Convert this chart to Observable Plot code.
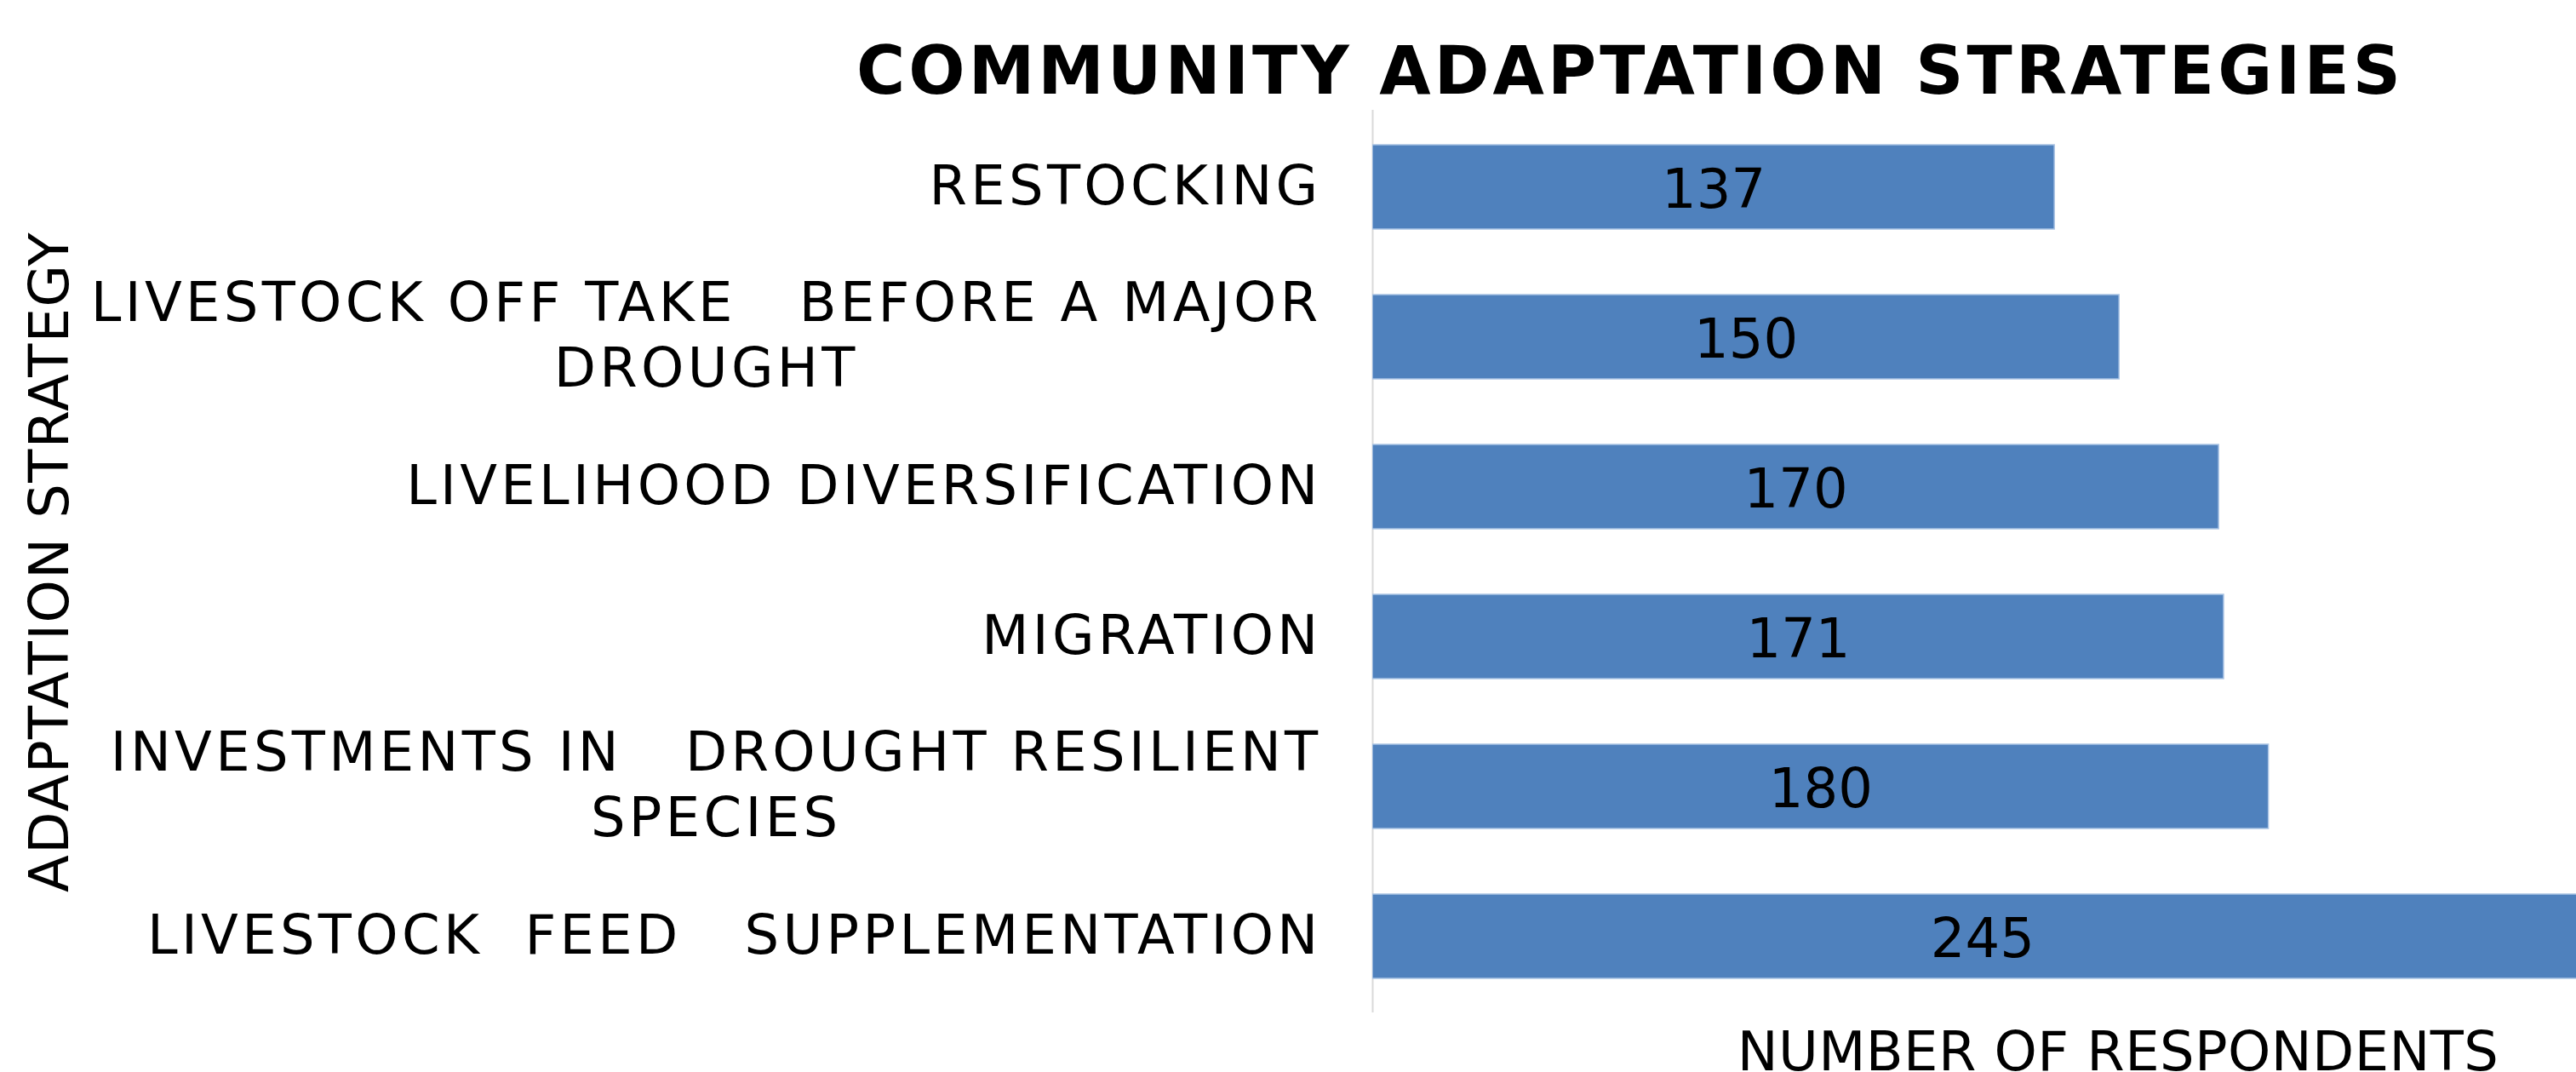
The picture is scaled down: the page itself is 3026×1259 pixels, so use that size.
<!DOCTYPE html>
<html>
<head>
<meta charset="utf-8">
<script src="https://cdn.jsdelivr.net/npm/d3@7"></script>
<script src="https://cdn.jsdelivr.net/npm/@observablehq/plot@0.6"></script>
<style>
  html, body { margin: 0; padding: 0; background: #fff; }
  #wrap { position: relative; width: 3026px; height: 1259px; overflow: hidden; font-family: "DejaVu Sans", Verdana, sans-serif; color: #000; }
  #wrap svg text { white-space: pre; }
  .title { position: absolute; left: 1915px; top: 44px; transform: translateX(-50%); font-size: 78px; line-height: 78px; font-weight: bold; letter-spacing: 4.1px; white-space: nowrap; }
  .xtitle { position: absolute; left: 2488px; top: 1203px; transform: translateX(-50%); font-size: 64px; line-height: 64px; letter-spacing: 0.4px; white-space: nowrap; }
  .ytitle { position: absolute; left: 58px; top: 660px; transform: translate(-50%, -50%) rotate(-90deg); font-size: 64px; line-height: 64px; letter-spacing: 1.4px; white-space: nowrap; }
  #chart { position: absolute; left: 0; top: 0; }
</style>
</head>
<body>
<div id="wrap">
  <div id="chart"></div>
  <div class="title">COMMUNITY ADAPTATION STRATEGIES</div>
  <div class="ytitle">ADAPTATION STRATEGY</div>
  <div class="xtitle">NUMBER OF RESPONDENTS</div>
</div>
<script>
// Categories, top to bottom
const categories = [
  "RESTOCKING",
  "LIVESTOCK OFF TAKE   BEFORE A MAJOR\nDROUGHT",
  "LIVELIHOOD DIVERSIFICATION",
  "MIGRATION",
  "INVESTMENTS IN   DROUGHT RESILIENT\nSPECIES",
  "LIVESTOCK  FEED   SUPPLEMENTATION"
];
// Number of respondents
const values = [137, 150, 170, 171, 180, 245];

const data = categories.map((c, i) => ({category: c, value: values[i]}));

const svg = Plot.plot({
  width: 3026,
  height: 1259,
  marginTop: 129,
  marginBottom: 70,
  marginLeft: 1612,
  marginRight: 0,
  x: {domain: [0, 241.8], axis: null},
  y: {domain: categories, axis: null, paddingInner: 0.44, paddingOuter: 0.22},
  style: {fontFamily: "'DejaVu Sans', Verdana, sans-serif", background: "transparent", color: "#000"},
  marks: [
    Plot.ruleX([0], {stroke: "#d9d9d9", strokeWidth: 2}),
    Plot.barX(data, {x: "value", y: "category", fill: "#4f81bd", stroke: "#a9c3e4", strokeWidth: 1.5, clip: true}),
    Plot.text(data, {x: d => d.value / 2, y: "category", text: d => String(d.value), fontSize: 64, fill: "#000", dy: 4}),
    Plot.text(data, {y: "category", text: "category", frameAnchor: "left", textAnchor: "end", dx: -60, dy: -5, fontSize: 64, lineHeight: 1.2, fill: "#000"})
  ]
});

document.getElementById("chart").appendChild(svg);

// Center wrapped category label lines relative to each other (as in the original)
const groups = svg.querySelectorAll('g[aria-label="text"]');
const catGroup = groups[groups.length - 1];
catGroup.style.letterSpacing = "4.3px";
catGroup.querySelectorAll("text").forEach(t => {
  const spans = t.querySelectorAll("tspan");
  if (spans.length > 1) {
    let w = 0;
    spans.forEach(s => { w = Math.max(w, s.getComputedTextLength()); });
    t.setAttribute("text-anchor", "middle");
    spans.forEach(s => s.setAttribute("x", -w / 2));
  }
});
</script>
</body>
</html>
